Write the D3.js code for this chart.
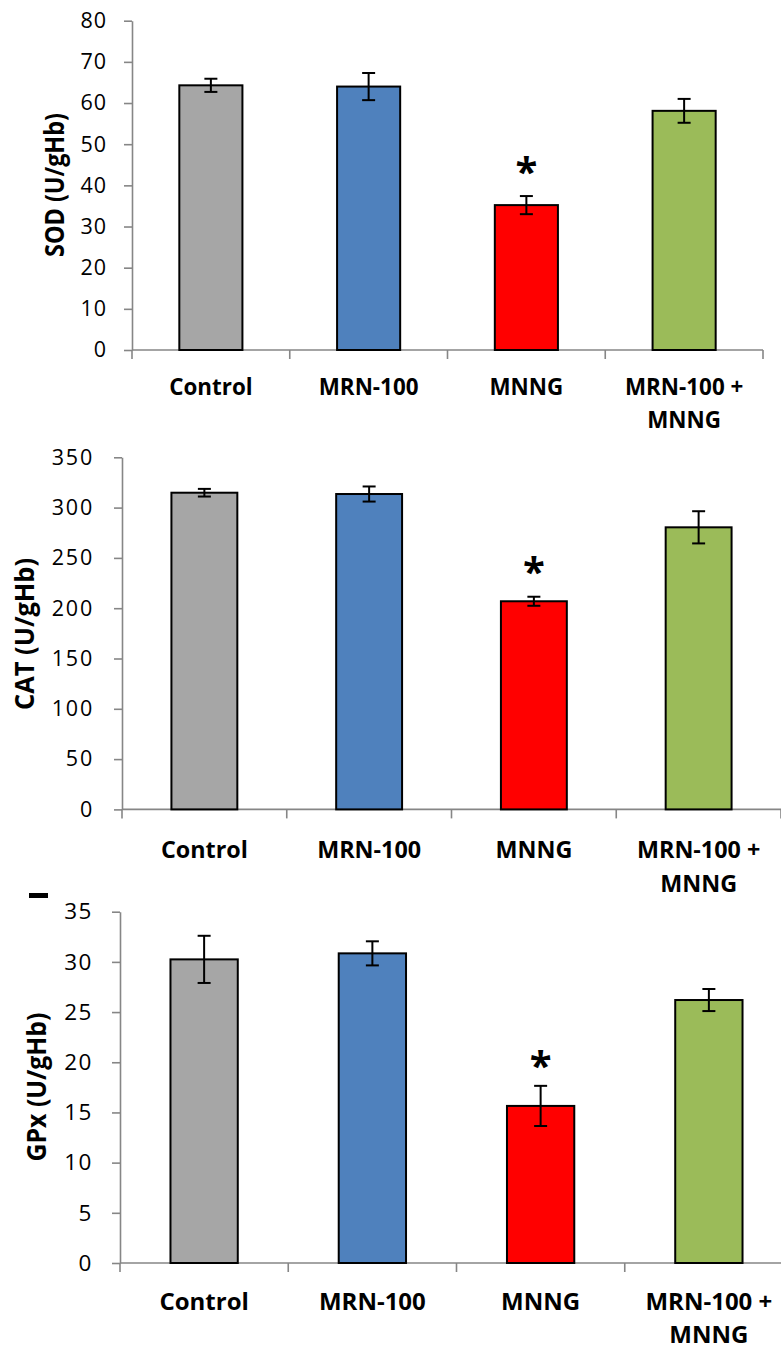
<!DOCTYPE html>
<html><head><meta charset="utf-8">
<script src="https://cdn.jsdelivr.net/npm/d3@7"></script>
<style>body{margin:0;background:#fff}svg{display:block}</style>
</head><body>
<svg id="c" width="781" height="1348"></svg>
<script>
// ---- data ----
const categories = ["Control", "MRN-100", "MNNG", "MRN-100 + MNNG"];
const categoryLines = [["Control"], ["MRN-100"], ["MNNG"], ["MRN-100 +", "MNNG"]];
const barColors = ["#A6A6A6", "#4F81BD", "#FF0000", "#9BBB59"];
const significant = [false, false, true, false];

const sodValues = [64.3, 64.0, 35.2, 58.1];
const sodErrors = [1.6, 3.3, 2.2, 2.9];
const sodTicks = [0, 10, 20, 30, 40, 50, 60, 70, 80];

const catValues = [314.8, 313.5, 206.9, 280.4];
const catErrors = [3.8, 7.5, 4.5, 16];
const catTicks = [0, 50, 100, 150, 200, 250, 300, 350];

const gpxValues = [30.25, 30.85, 15.65, 26.2];
const gpxErrors = [2.35, 1.2, 2.0, 1.1];
const gpxTicks = [0, 5, 10, 15, 20, 25, 30, 35];

const titles = ["SOD (U/gHb)", "CAT (U/gHb)", "GPx (U/gHb)"];

// ---- layout (positions / styles) ----
const panels = [
  {title: titles[0], values: sodValues, errors: sodErrors, ticks: sodTicks,
   x0: 132, x1: 763, yTop: 20.7, yBottom: 350, tickPad: 17, tickFs: 21.5, tickLs: 1.0,
   titleX: 55, titleY: 185, titleLen: 144, titleFs: 26,
   labFs: 24, labSx: 0.934, labBase: 45, labGap: 33, starOff: 30},
  {title: titles[1], values: catValues, errors: catErrors, ticks: catTicks,
   x0: 122, x1: 781, yTop: 457.3, yBottom: 809.4, tickPad: 20, tickFs: 21.5, tickLs: 1.8,
   titleX: 25, titleY: 634, titleLen: 152, titleFs: 27,
   labFs: 24, labSx: 0.973, labBase: 49, labGap: 33.5, starOff: 31},
  {title: titles[2], values: gpxValues, errors: gpxErrors, ticks: gpxTicks,
   x0: 120, x1: 793, yTop: 911.7, yBottom: 1263, tickPad: 19.5, tickFs: 22.5, tickLs: 1.2,
   titleX: 37, titleY: 1087, titleLen: 149, titleFs: 27,
   labFs: 24, labSx: 1.0, labBase: 46.5, labGap: 33, starOff: 26}
];

const svg = d3.select("#c");
const axisColor = "#868686";

panels.forEach(p => {
  const g = svg.append("g");
  const yMax = d3.max(p.ticks);
  const y = d3.scaleLinear().domain([0, yMax]).range([p.yBottom, p.yTop]);
  const x = d3.scaleBand().domain(categories).range([p.x0, p.x1])
    .paddingInner(0.6).paddingOuter(0.3);
  const step = x.step();

  // y axis
  const ya = g.append("g").attr("transform", `translate(${p.x0},0)`)
    .call(d3.axisLeft(y).tickValues(p.ticks).tickSize(8).tickSizeOuter(0).tickPadding(p.tickPad));
  ya.select(".domain").attr("stroke", axisColor).attr("stroke-width", 1.6);
  ya.selectAll(".tick line").attr("stroke", axisColor).attr("stroke-width", 1.6);
  ya.selectAll(".tick text").attr("fill", "#000")
    .style("font-family", "'Open Sans', sans-serif").style("font-size", p.tickFs + "px")
    .style("letter-spacing", p.tickLs + "px");

  // x axis line + boundary ticks
  g.append("line").attr("x1", p.x0).attr("x2", p.x1).attr("y1", p.yBottom).attr("y2", p.yBottom)
    .attr("stroke", axisColor).attr("stroke-width", 1.6);
  g.selectAll(".xt").data(d3.range(categories.length + 1)).enter().append("line")
    .attr("x1", i => p.x0 + i * step).attr("x2", i => p.x0 + i * step)
    .attr("y1", p.yBottom).attr("y2", p.yBottom + 9)
    .attr("stroke", axisColor).attr("stroke-width", 1.6);

  // bars
  g.selectAll(".bar").data(categories).enter().append("rect")
    .attr("x", c => x(c)).attr("width", x.bandwidth())
    .attr("y", (c, i) => y(p.values[i]))
    .attr("height", (c, i) => y(0) - y(p.values[i]))
    .attr("fill", (c, i) => barColors[i])
    .attr("stroke", "#000").attr("stroke-width", 2);

  // error bars
  const cap = 6.5;
  categories.forEach((c, i) => {
    const cx = x(c) + x.bandwidth() / 2;
    const hi = y(p.values[i] + p.errors[i]), lo = y(p.values[i] - p.errors[i]);
    const eg = g.append("g").attr("stroke", "#000").attr("stroke-width", 2);
    eg.append("line").attr("x1", cx).attr("x2", cx).attr("y1", hi).attr("y2", lo);
    eg.append("line").attr("x1", cx - cap).attr("x2", cx + cap).attr("y1", hi).attr("y2", hi);
    eg.append("line").attr("x1", cx - cap).attr("x2", cx + cap).attr("y1", lo).attr("y2", lo);
    if (significant[i]) {
      g.append("text").attr("x", cx).attr("y", hi - p.starOff + 20)
        .attr("text-anchor", "middle")
        .style("font-family", "'Open Sans', sans-serif").style("font-weight", "700")
        .style("font-size", "40px").text("*");
    }
  });

  // category labels
  categories.forEach((c, i) => {
    const cx = x(c) + x.bandwidth() / 2;
    categoryLines[i].forEach((line, k) => {
      g.append("text")
        .attr("transform", `translate(${cx},${p.yBottom + p.labBase + k * p.labGap}) scale(${p.labSx},1)`)
        .attr("text-anchor", "middle")
        .style("font-family", "'Open Sans', sans-serif").style("font-weight", "700")
        .style("font-size", p.labFs + "px").text(line);
    });
  });

  // y title
  g.append("text")
    .attr("transform", `translate(${p.titleX},${p.titleY}) rotate(-90)`)
    .attr("text-anchor", "middle").attr("dy", "0.35em")
    .attr("textLength", p.titleLen).attr("lengthAdjust", "spacingAndGlyphs")
    .style("font-family", "'Open Sans', sans-serif").style("font-weight", "700")
    .style("font-size", p.titleFs + "px").text(p.title);
});

// small stray mark present in the source image
svg.append("rect").attr("x", 29).attr("y", 893).attr("width", 19).attr("height", 5).attr("fill", "#000");
</script>
</body></html>
